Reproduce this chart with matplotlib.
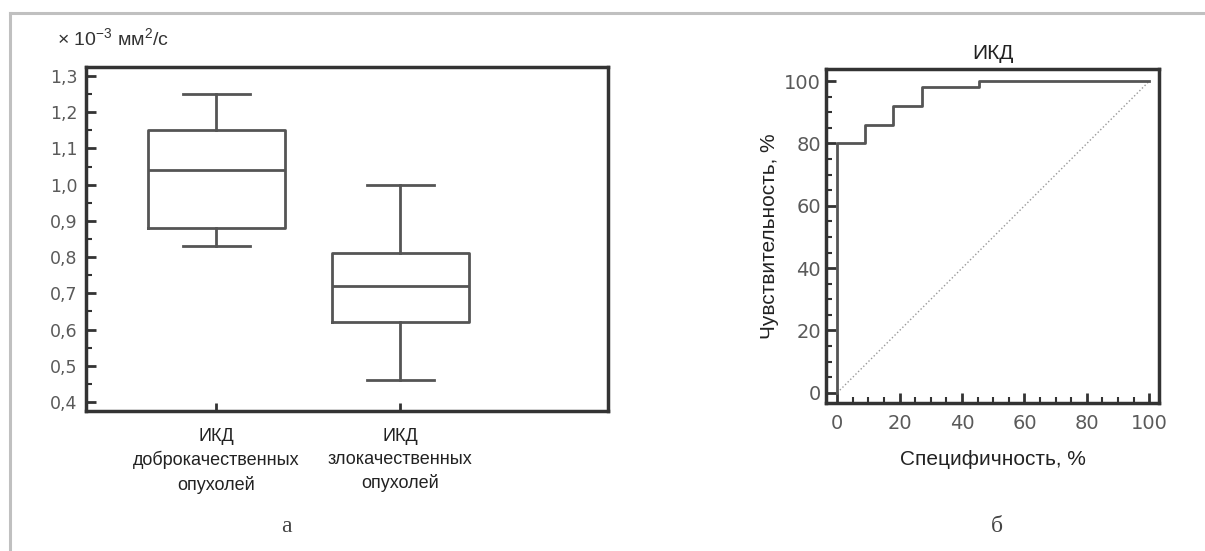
import matplotlib
matplotlib.use('Agg')
import matplotlib.pyplot as plt
from matplotlib.lines import Line2D
from matplotlib.ticker import FixedLocator, MultipleLocator

plt.rcParams['font.family'] = ['Liberation Sans', 'DejaVu Sans']
plt.rcParams['mathtext.fontset'] = 'custom'
plt.rcParams['mathtext.rm'] = 'Liberation Sans'
plt.rcParams['mathtext.default'] = 'regular'

# --- data: box plot (x 10^-3 mm2/s) ---
groups = ['ИКД\nдоброкачественных\nопухолей', 'ИКД\nзлокачественных\nопухолей']
whislo = [0.83, 0.46]
q1 = [0.88, 0.62]
med = [1.04, 0.72]
q3 = [1.15, 0.81]
whishi = [1.25, 1.00]
ytick_vals = [0.4, 0.5, 0.6, 0.7, 0.8, 0.9, 1.0, 1.1, 1.2, 1.3]
ytick_labels = ['0,4', '0,5', '0,6', '0,7', '0,8', '0,9', '1,0', '1,1', '1,2', '1,3']

# --- data: ROC curve ---
specificity_1m = [0, 0, 9, 9, 18, 18, 27, 27, 45.5, 45.5, 100]
sensitivity = [0, 80, 80, 86, 86, 92, 92, 98, 98, 100, 100]
diag = [0, 100]

line_col = '#555555'
spine_col = '#333333'
tick_col = '#5a5a5a'
num_font = ['DejaVu Sans']

fig = plt.figure(figsize=(12.05, 5.51), dpi=100)

# outer gray frame (top + left)
fig.add_artist(Line2D([0.0083, 1.0], [0.9773, 0.9773], transform=fig.transFigure,
                      color='#c0c0c0', lw=2.2))
fig.add_artist(Line2D([0.0083, 0.0083], [0.0, 0.9773], transform=fig.transFigure,
                      color='#c0c0c0', lw=2.2))

# ---------- panel a: box plot ----------
ax1 = fig.add_axes([0.0714, 0.2541, 0.4332, 0.6243])
stats = []
for i in range(len(groups)):
    stats.append({'whislo': whislo[i], 'q1': q1[i], 'med': med[i],
                  'q3': q3[i], 'whishi': whishi[i], 'fliers': []})
lp = dict(color=line_col, linewidth=2)
ax1.bxp(stats, positions=[1, 2], widths=0.745, capwidths=0.364,
        showfliers=False, boxprops=lp, whiskerprops=lp, capprops=lp,
        medianprops=dict(color=line_col, linewidth=2))
ax1.set_xlim(0.293, 3.13)
ax1.set_ylim(0.375, 1.325)
ax1.yaxis.set_major_locator(FixedLocator(ytick_vals))
ax1.set_yticklabels(ytick_labels, family=num_font)
ax1.yaxis.set_minor_locator(MultipleLocator(0.05))
ax1.set_xticks([1, 2])
ax1.set_xticklabels(groups, fontsize=13, color='#222222', linespacing=1.45)
ax1.tick_params(axis='y', which='major', direction='in', length=7, width=2,
                color=spine_col, labelsize=12.5, labelcolor=tick_col, pad=6)
ax1.tick_params(axis='y', which='minor', direction='in', length=4, width=1.5,
                color=spine_col)
ax1.tick_params(axis='x', direction='in', length=6, width=2, color=spine_col, pad=12)
for s in ax1.spines.values():
    s.set_color(spine_col)
    s.set_linewidth(2.5)
fig.text(0.047, 0.931, '× 10$^{-3}$ мм$^{2}$/с', fontsize=14, color='#333333',
         va='center')
fig.text(0.238, 0.045, 'а', family=['Liberation Serif', 'DejaVu Serif'],
         fontsize=17, color='#444444', ha='center', va='center')

# ---------- panel b: ROC ----------
ax2 = fig.add_axes([0.6855, 0.2686, 0.2763, 0.6062])
ax2.plot(diag, diag, color='#999999', lw=1, ls=':')
ax2.plot(specificity_1m, sensitivity, color=line_col, lw=2)
ax2.set_xlim(-3.6, 103.1)
ax2.set_ylim(-3.3, 103.9)
ax2.xaxis.set_major_locator(MultipleLocator(20))
ax2.yaxis.set_major_locator(MultipleLocator(20))
ax2.xaxis.set_minor_locator(MultipleLocator(5))
ax2.yaxis.set_minor_locator(MultipleLocator(5))
ax2.tick_params(which='major', direction='in', length=7, width=2, color=spine_col,
                labelsize=14, labelcolor=tick_col, labelfontfamily='DejaVu Sans')
ax2.tick_params(which='minor', direction='in', length=4, width=1.5, color=spine_col)
ax2.tick_params(axis='x', pad=8)
for s in ax2.spines.values():
    s.set_color(spine_col)
    s.set_linewidth(2.5)
ax2.set_title('ИКД', fontsize=15, color='#222222', pad=7)
ax2.set_xlabel('Специфичность, %', fontsize=15, color='#222222', labelpad=12)
ax2.set_ylabel('Чувствительность, %', fontsize=15, color='#222222', labelpad=4)
fig.text(0.827, 0.045, 'б', family=['Liberation Serif', 'DejaVu Serif'],
         fontsize=17, color='#444444', ha='center', va='center')

plt.savefig('out.png', dpi=100)
plt.close('all')
